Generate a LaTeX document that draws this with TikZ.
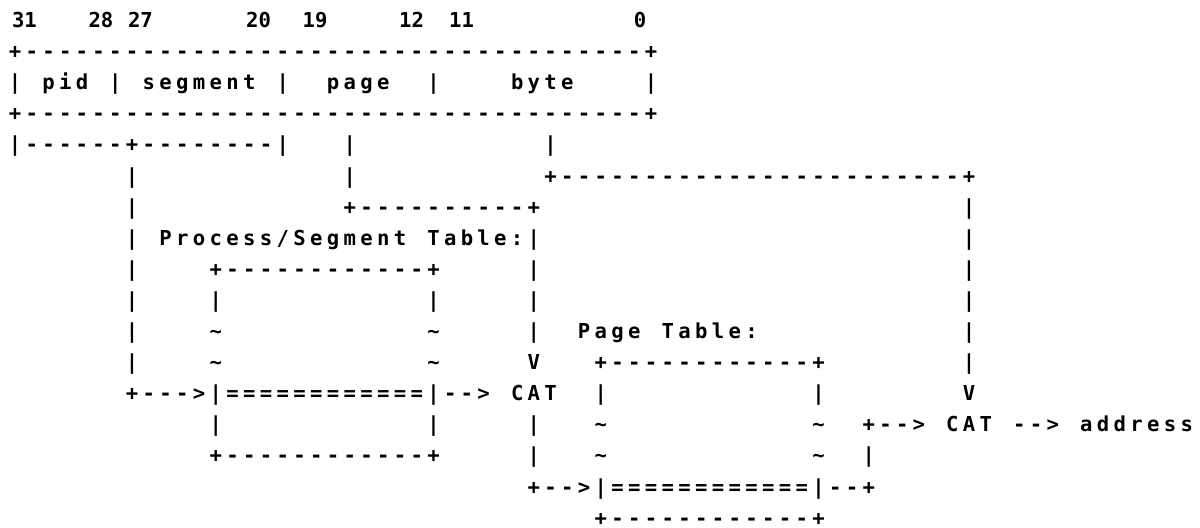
\documentclass[tikz,border=0pt]{standalone}
\usepackage{fontspec}
\newfontfamily\gridfont{DejaVu Sans Mono}[BoldFont={DejaVu Sans Mono Bold}]
\newlength\cw
\setlength\cw{8.37pt}
\ExplSyntaxOn
\NewDocumentCommand\gr{m}{\str_map_inline:nn{#1}{\makebox[\cw]{##1}}}
\ExplSyntaxOff
\tikzset{
  seg/.style={anchor=base west, inner sep=0pt, outer sep=0pt, text=black,
    font=\gridfont\bfseries\fontsize{10.3pt}{12pt}\selectfont},
  num/.style={anchor=base, inner sep=0pt, outer sep=0pt, text=black,
    font=\gridfont\bfseries\fontsize{10.3pt}{12pt}\selectfont}
}
\newcommand\seg[4]{\node[seg] (#1) at ({6.63+16.74*#2},{27.5+31.1*(#3-1)}) {\gr{#4}};}
\begin{document}
\begin{tikzpicture}[x=0.5pt,y=-0.5pt]
\fill[white] (0,0) rectangle (1200,527);
\useasboundingbox (0,0) rectangle (1200,527);
% row 1: bit numbers
\node[num] (n31) at (24.5,27.5) {31};
\node[num] (n28) at (101,27.5) {28};
\node[num] (n27) at (140.5,27.5) {27};
\node[num] (n20) at (258.5,27.5) {20};
\node[num] (n19) at (315,27.5) {19};
\node[num] (n12) at (411.5,27.5) {12};
\node[num] (n11) at (461.5,27.5) {11};
\node[num] (n0) at (640,27.5) {0};
% row 2
\seg{r2}{0}{2}{+-------------------------------------+}
% row 3
\seg{r3a}{0}{3}{|}
\seg{r3b}{2}{3}{pid}
\seg{r3c}{6}{3}{|}
\seg{r3d}{8}{3}{segment}
\seg{r3e}{16}{3}{|}
\seg{r3f}{19}{3}{page}
\seg{r3g}{25}{3}{|}
\seg{r3h}{30}{3}{byte}
\seg{r3i}{38}{3}{|}
% row 4
\seg{r4}{0}{4}{+-------------------------------------+}
% row 5
\seg{r5a}{0}{5}{|------+--------|}
\seg{r5b}{20}{5}{|}
\seg{r5c}{32}{5}{|}
% row 6
\seg{r6a}{7}{6}{|}
\seg{r6b}{20}{6}{|}
\seg{r6c}{32}{6}{+------------------------+}
% row 7
\seg{r7a}{7}{7}{|}
\seg{r7b}{20}{7}{+----------+}
\seg{r7c}{57}{7}{|}
% row 8
\seg{r8a}{7}{8}{|}
\seg{r8b}{9}{8}{Process/Segment Table:|}
\seg{r8c}{57}{8}{|}
% row 9
\seg{r9a}{7}{9}{|}
\seg{r9b}{12}{9}{+------------+}
\seg{r9c}{31}{9}{|}
\seg{r9d}{57}{9}{|}
% row 10
\seg{r10a}{7}{10}{|}
\seg{r10b}{12}{10}{|}
\seg{r10c}{25}{10}{|}
\seg{r10d}{31}{10}{|}
\seg{r10e}{57}{10}{|}
% row 11
\seg{r11a}{7}{11}{|}
\seg{r11b}{12}{11}{~}
\seg{r11c}{25}{11}{~}
\seg{r11d}{31}{11}{|}
\seg{r11e}{34}{11}{Page Table:}
\seg{r11f}{57}{11}{|}
% row 12
\seg{r12a}{7}{12}{|}
\seg{r12b}{12}{12}{~}
\seg{r12c}{25}{12}{~}
\seg{r12d}{31}{12}{V}
\seg{r12e}{35}{12}{+------------+}
\seg{r12f}{57}{12}{|}
% row 13
\seg{r13a}{7}{13}{+--->|============|-->}
\seg{r13b}{30}{13}{CAT}
\seg{r13c}{35}{13}{|}
\seg{r13d}{48}{13}{|}
\seg{r13e}{57}{13}{V}
% row 14
\seg{r14a}{12}{14}{|}
\seg{r14b}{25}{14}{|}
\seg{r14c}{31}{14}{|}
\seg{r14d}{35}{14}{~}
\seg{r14e}{48}{14}{~}
\seg{r14f}{51}{14}{+-->}
\seg{r14g}{56}{14}{CAT}
\seg{r14h}{60}{14}{-->}
\seg{r14i}{64}{14}{address}
% row 15
\seg{r15a}{12}{15}{+------------+}
\seg{r15b}{31}{15}{|}
\seg{r15c}{35}{15}{~}
\seg{r15d}{48}{15}{~}
\seg{r15e}{51}{15}{|}
% row 16
\seg{r16}{31}{16}{+-->|============|--+}
% row 17
\seg{r17}{35}{17}{+------------+}
\end{tikzpicture}
\end{document}
